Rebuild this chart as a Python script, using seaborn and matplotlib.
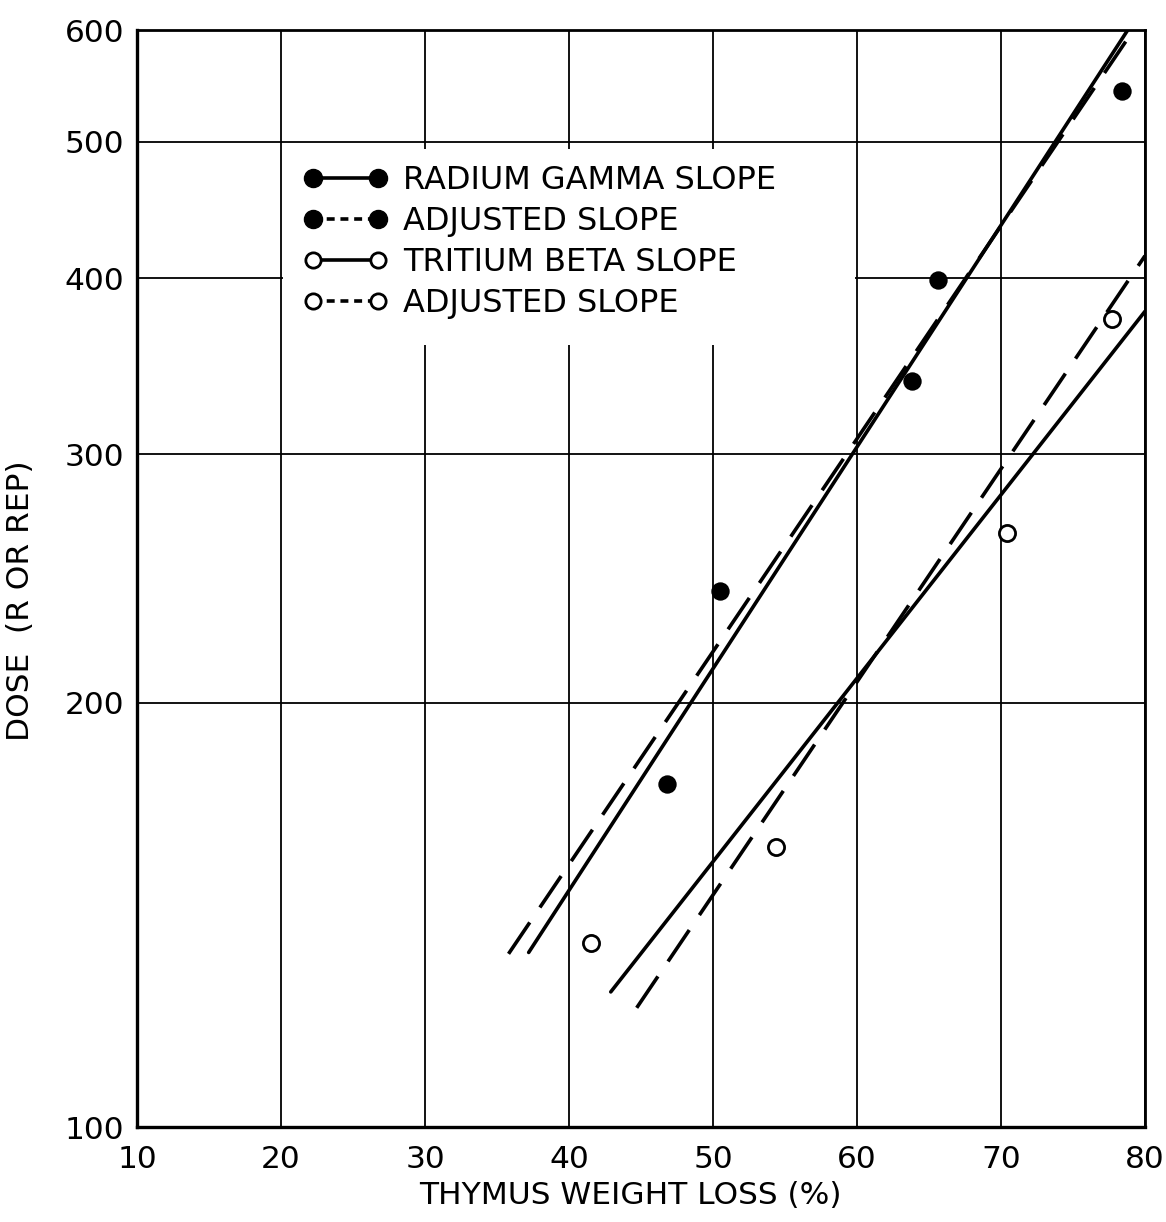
import matplotlib
matplotlib.use("Agg")
import matplotlib.pyplot as plt
from matplotlib.lines import Line2D
from matplotlib.legend_handler import HandlerLine2D
from matplotlib.ticker import NullLocator, NullFormatter
from matplotlib.patches import Rectangle
import seaborn as sns

# ---- data ----
radium_x = [46.8, 50.5, 63.8, 65.6, 78.4]
radium_y = [175, 240, 338, 399, 543]
tritium_x = [41.5, 54.4, 70.4, 77.7]
tritium_y = [135, 158, 264, 374]

radium_fit_x = [37.2, 78.8]
radium_fit_y = [133, 600]
radium_adj_x = [35.8, 79.2]
radium_adj_y = [132.7, 600]
tritium_fit_x = [42.9, 80.0]
tritium_fit_y = [124.7, 379]
tritium_adj_x = [44.7, 80.0]
tritium_adj_y = [121.5, 415]

x_ticks = [10, 20, 30, 40, 50, 60, 70, 80]
y_ticks = [100, 200, 300, 400, 500, 600]
legend_labels = ["RADIUM GAMMA SLOPE", "ADJUSTED SLOPE",
                 "TRITIUM BETA SLOPE", "ADJUSTED SLOPE"]
x_label = "THYMUS WEIGHT LOSS (%)"
y_label = "DOSE  (R OR REP)"

sns.set_style("white")
plt.rcParams["font.family"] = ["DejaVu Sans"]
plt.rcParams["text.color"] = "black"

fig = plt.figure(figsize=(11.66, 12.22), dpi=100)
ax = fig.add_axes([0.1175, 0.0777, 0.8645, 0.8977])

ax.set_yscale("log")
ax.set_xlim(10, 80)
ax.set_ylim(100, 600)

dash = (0, (10.5, 5))
lw = 2.6
sns.lineplot(x=radium_fit_x, y=radium_fit_y, ax=ax, color="black", lw=lw,
             legend=False, sort=False, estimator=None)
sns.lineplot(x=radium_adj_x, y=radium_adj_y, ax=ax, color="black", lw=lw,
             linestyle=dash, legend=False, sort=False, estimator=None)
sns.lineplot(x=tritium_fit_x, y=tritium_fit_y, ax=ax, color="black", lw=lw,
             legend=False, sort=False, estimator=None)
sns.lineplot(x=tritium_adj_x, y=tritium_adj_y, ax=ax, color="black", lw=lw,
             linestyle=dash, legend=False, sort=False, estimator=None)

sns.scatterplot(x=radium_x, y=radium_y, ax=ax, color="black", s=175,
                edgecolor="black", linewidth=0, zorder=4, legend=False)
sns.scatterplot(x=tritium_x, y=tritium_y, ax=ax, facecolor="white", s=135,
                edgecolor="black", linewidth=2.0, zorder=4, legend=False)

# grid
ax.set_axisbelow(True)
ax.grid(True, which="major", color="black", lw=1.3)
ax.set_xticks(x_ticks)
ax.set_xticklabels([str(v) for v in x_ticks])
ax.yaxis.set_minor_locator(NullLocator())
ax.yaxis.set_minor_formatter(NullFormatter())
ax.set_yticks(y_ticks)
ax.set_yticklabels([str(v) for v in y_ticks])
ax.tick_params(axis="both", length=0, labelsize=22.5, colors="black")
ax.tick_params(axis="x", pad=13)
ax.tick_params(axis="y", pad=9)

for side in ["left", "bottom"]:
    ax.spines[side].set_linewidth(2.4)
for side in ["top", "right"]:
    ax.spines[side].set_linewidth(2.0)
for s in ax.spines.values():
    s.set_color("black")
    s.set_visible(True)

ax.set_xlabel(x_label, fontsize=22.5, color="black")
ax.set_ylabel(y_label, fontsize=22.5, color="black")
ax.xaxis.set_label_coords(0.489, -0.049)
ax.yaxis.set_label_coords(-0.101, 0.48)

# white area behind the legend (covers grid lines)
ax.add_patch(Rectangle((0.145, 0.713), 0.567, 0.179, transform=ax.transAxes,
                       facecolor="white", edgecolor="none", zorder=1))

handles = [
    Line2D([], [], color="black", lw=2.6, marker="o", markersize=13,
           markerfacecolor="black", markeredgecolor="black"),
    Line2D([], [], color="black", lw=2.6, ls=(0, (2.2, 1.6)), marker="o",
           markersize=13, markerfacecolor="black", markeredgecolor="black"),
    Line2D([], [], color="black", lw=2.6, marker="o", markersize=11,
           markerfacecolor="white", markeredgecolor="black", markeredgewidth=2),
    Line2D([], [], color="black", lw=2.6, ls=(0, (2.2, 1.6)), marker="o",
           markersize=11, markerfacecolor="white", markeredgecolor="black",
           markeredgewidth=2),
]
hmap = {h: HandlerLine2D(numpoints=2, marker_pad=0) for h in handles}
ax.legend(handles, legend_labels, handler_map=hmap, loc="upper left",
          bbox_to_anchor=(0.1746, 0.877), frameon=False, fontsize=23,
          handlelength=2.03, handletextpad=0.8, labelspacing=0.31,
          borderpad=0, borderaxespad=0, labelcolor="black")

fig.savefig("out.png", dpi=100, facecolor="white")
